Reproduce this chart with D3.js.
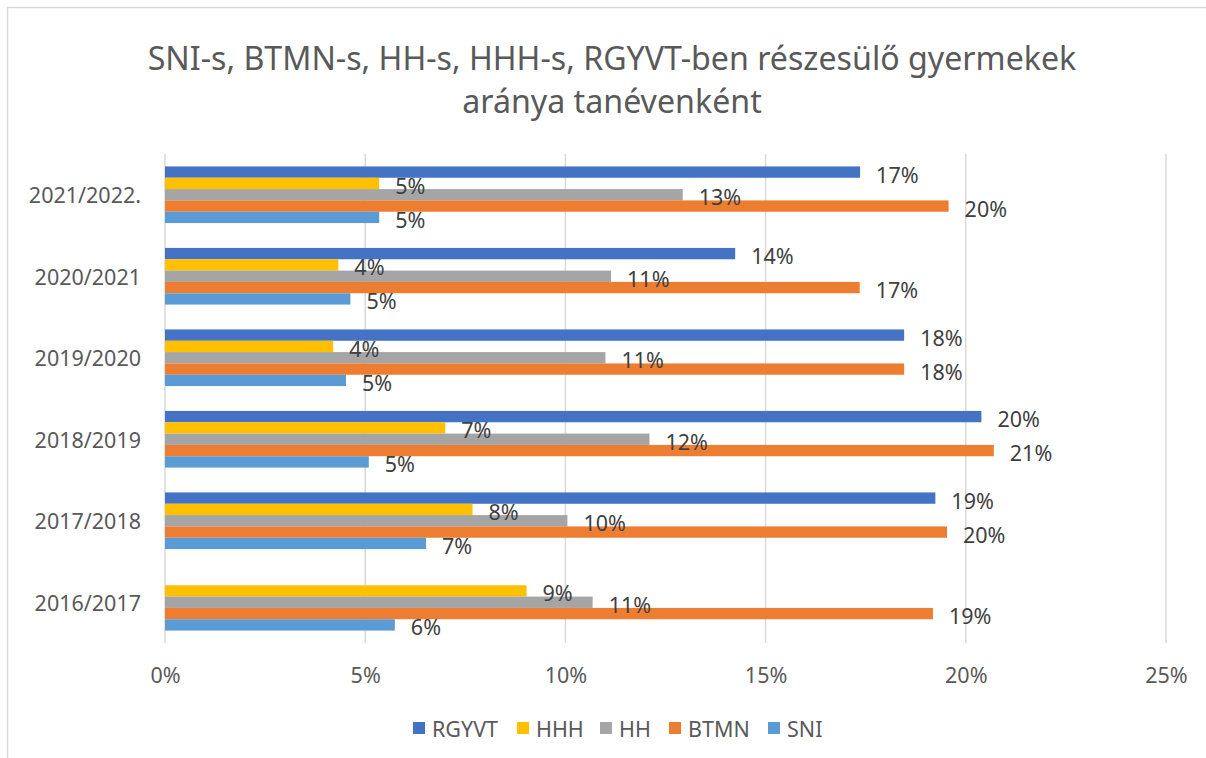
<!DOCTYPE html>
<html>
<head>
<meta charset="utf-8">
<script src="https://cdn.jsdelivr.net/npm/d3@7"></script>
<style>
  body { margin:0; background:#fff; }
  svg text { font-family: "Noto Sans", "Open Sans", sans-serif; }
</style>
</head>
<body>
<div id="chart"></div>
<script>
// adatok (tanévek felülről lefelé)
const categories = ['2021/2022.', '2020/2021', '2019/2020', '2018/2019', '2017/2018', '2016/2017'];
const seriesNames = ['RGYVT', 'HHH', 'HH', 'BTMN', 'SNI'];
const rgyvt = [17.36, 14.24, 18.46, 20.39, 19.24, null];
const hhh   = [5.35, 4.33, 4.2, 7.0, 7.68, 9.03];
const hh    = [12.93, 11.14, 11.0, 12.1, 10.05, 10.68];
const btmn  = [19.57, 17.35, 18.46, 20.7, 19.53, 19.18];
const sni   = [5.35, 4.63, 4.52, 5.09, 6.52, 5.74];
const xTicks = [0, 5, 10, 15, 20, 25];
const titleLines = ['SNI-s, BTMN-s, HH-s, HHH-s, RGYVT-ben részesülő gyermekek', 'aránya tanévenként'];

const seriesValues = [rgyvt, hhh, hh, btmn, sni];
const colors = ['#4472C4', '#FFC000', '#A5A5A5', '#ED7D31', '#5B9BD5'];

const W = 1206, H = 758;
const plot = {left:165, right:1166, top:154, bottom:643};
const fontSize = '21.5px';

const svg = d3.select('#chart').append('svg')
  .attr('width', W).attr('height', H);

// keret
svg.append('rect')
  .attr('x', 7.5).attr('y', 7.5)
  .attr('width', W + 20).attr('height', H + 20)
  .attr('fill', '#fff').attr('stroke', '#d9d9d9').attr('stroke-width', 1.5);

// cím
const title = svg.append('g');
titleLines.forEach((t, i) => {
  title.append('text')
    .attr('x', 612).attr('y', 57 + i * 43)
    .attr('text-anchor', 'middle')
    .attr('dominant-baseline', 'central')
    .attr('fill', '#595959')
    .style('font-size', '29px')
    .text(t);
});
// első sor szélessége kb. 929px az eredetin
const tw = title.select('text').node().getComputedTextLength();
const fs = 29 * 929 / tw;
title.selectAll('text').style('font-size', fs + 'px');

// skálák
const x = d3.scaleLinear().domain([0, 25]).range([plot.left, plot.right]);
const y = d3.scaleBand().domain(categories).range([plot.top, plot.bottom]).paddingInner(0.305).paddingOuter(0.1525);
const ys = d3.scaleBand().domain(seriesNames).range([0, y.bandwidth()]);

// rácsvonalak
svg.append('g')
  .selectAll('line')
  .data(xTicks)
  .join('line')
  .attr('x1', d => x(d)).attr('x2', d => x(d))
  .attr('y1', plot.top).attr('y2', plot.bottom)
  .attr('stroke', '#d9d9d9').attr('stroke-width', 1.5);

// x tengely
const xAxis = d3.axisBottom(x).tickValues(xTicks).tickFormat(d => d + '%').tickSize(0).tickPadding(0);
const gx = svg.append('g')
  .attr('transform', `translate(0,${plot.bottom})`)
  .call(xAxis);
gx.select('.domain').remove();
gx.selectAll('text')
  .attr('y', 31).attr('dy', null)
  .attr('dominant-baseline', 'central')
  .attr('fill', '#595959')
  .style('font-size', fontSize);

// y tengely
const yAxis = d3.axisLeft(y).tickSize(0).tickPadding(0);
const gy = svg.append('g')
  .attr('transform', `translate(141,0)`)
  .call(yAxis);
gy.select('.domain').remove();
gy.selectAll('text')
  .attr('x', 0).attr('dy', null)
  .attr('dominant-baseline', 'central')
  .attr('fill', '#595959')
  .style('font-size', fontSize);

// oszlopok
const rows = [];
categories.forEach((c, ci) => {
  seriesNames.forEach((s, si) => {
    const v = seriesValues[si][ci];
    if (v != null) rows.push({cat:c, series:s, value:v, color:colors[si]});
  });
});

const bars = svg.append('g');
bars.selectAll('rect')
  .data(rows)
  .join('rect')
  .attr('x', x(0))
  .attr('y', d => y(d.cat) + ys(d.series))
  .attr('width', d => x(d.value) - x(0))
  .attr('height', ys.bandwidth())
  .attr('fill', d => d.color);

// adatcímkék
bars.selectAll('text')
  .data(rows)
  .join('text')
  .attr('x', d => x(d.value) + 16)
  .attr('y', d => y(d.cat) + ys(d.series) + ys.bandwidth() / 2 + 2)
  .attr('dominant-baseline', 'central')
  .attr('fill', '#404040')
  .style('font-size', fontSize)
  .text(d => Math.round(d.value) + '%');

// jelmagyarázat
const legendX = [413, 517, 600, 669, 768];
const legend = svg.append('g');
seriesNames.forEach((s, i) => {
  const g = legend.append('g').attr('transform', `translate(${legendX[i]},728)`);
  g.append('rect').attr('x', 0).attr('y', -6).attr('width', 12).attr('height', 12).attr('fill', colors[i]);
  g.append('text').attr('x', 19).attr('y', 0)
    .attr('dominant-baseline', 'central')
    .attr('fill', '#595959')
    .style('font-size', fontSize)
    .text(s);
});
</script>
</body>
</html>
